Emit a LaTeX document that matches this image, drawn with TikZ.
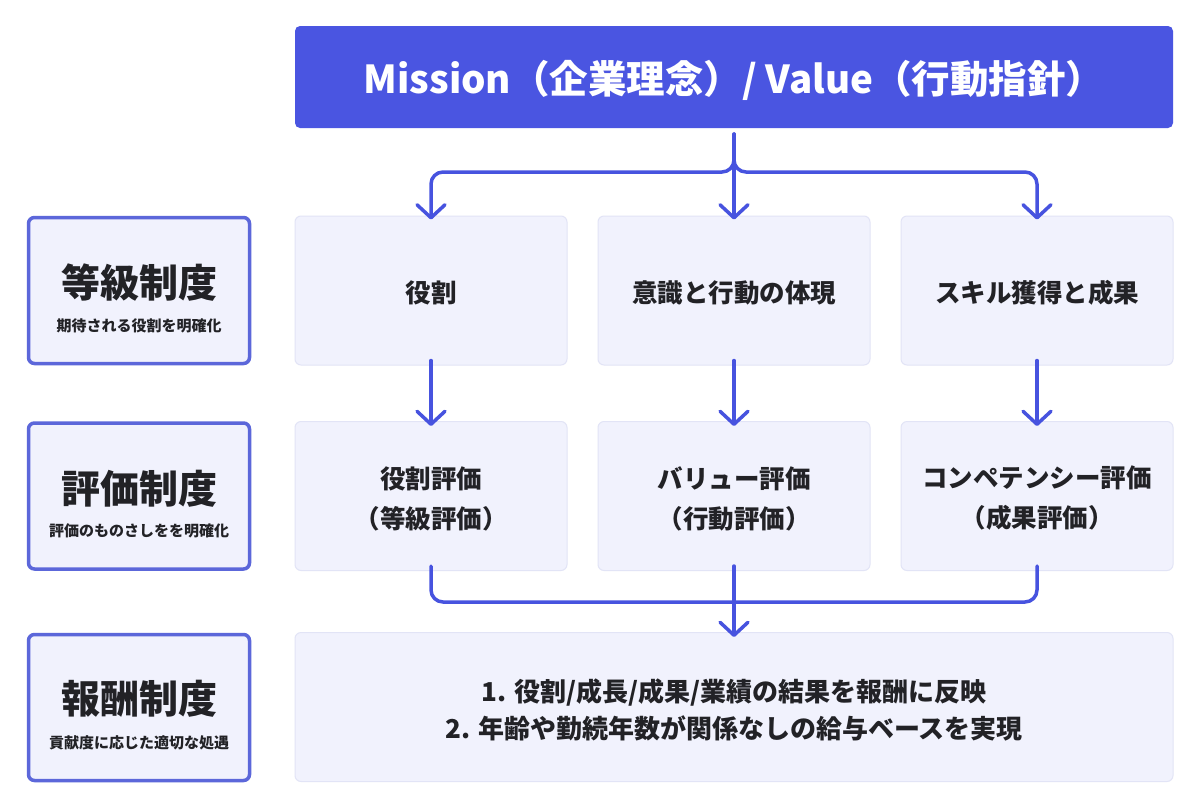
\documentclass[tikz,border=0pt]{standalone}
\usepackage{fontspec}
\setmainfont{Noto Sans CJK JP}
\usetikzlibrary{arrows.meta}
\definecolor{banner}{HTML}{4A55E1}
\definecolor{arrowc}{HTML}{4753DF}
\definecolor{lborder}{HTML}{5C67DA}
\definecolor{boxfill}{HTML}{F1F2FD}
\definecolor{cborder}{HTML}{E2E4F6}
\definecolor{txt}{HTML}{222226}
\tikzset{
  bannerbox/.style={fill=banner, draw=none, rounded corners=5pt, minimum width=878pt, minimum height=102pt, inner sep=0pt},
  bannertext/.style={text=white, font=\bfseries\fontsize{38.5}{42}\selectfont, inner sep=0pt},
  leftbox/.style={fill=boxfill, draw=lborder, line width=3.5pt, rounded corners=6pt, minimum width=221pt, minimum height=146pt, inner sep=0pt},
  contentbox/.style={fill=boxfill, draw=cborder, line width=1pt, rounded corners=6pt, minimum width=272pt, minimum height=149pt, inner sep=0pt},
  ctext/.style={text=txt, font=\bfseries\fontsize{25.5}{40}\selectfont, align=center, inner sep=0pt},
  bigbox/.style={contentbox, minimum width=878pt},
  btext/.style={text=txt, font=\bfseries\fontsize{26}{37}\selectfont, align=center, inner sep=0pt},
  title/.style={text=txt, font=\bfseries\fontsize{39}{42}\selectfont, inner sep=0pt},
  subtitle/.style={text=txt, font=\bfseries\fontsize{15}{17}\selectfont, inner sep=0pt},
  flow/.style={draw=arrowc, line width=3.5pt, line cap=round, line join=round, rounded corners=12pt, -{Straight Barb[length=13pt,width=28pt,line width=3.5pt,round]}},
  flowline/.style={draw=arrowc, line width=3.5pt, line cap=round, line join=round, rounded corners=12pt}
}
\begin{document}
\begin{tikzpicture}[x=1pt,y=-1pt]
\useasboundingbox[fill=white] (0,0) rectangle (1200,809);
% banner
\node[bannerbox] (top) at (734,77) {};
\node[bannertext] (topt) at (734,80) {Mission（企業理念）/ Value（行動指針）};
% left boxes
\node[leftbox] (l1) at (139,290.5) {};
\node[title] (l1t) at (139,283) {等級制度};
\node[subtitle] (l1s) at (139,326) {期待される役割を明確化};
\node[leftbox] (l2) at (139,496) {};
\node[title] (l2t) at (139,489) {評価制度};
\node[subtitle] (l2s) at (139,531) {評価のものさしをを明確化};
\node[leftbox] (l3) at (139,707.5) {};
\node[title] (l3t) at (139,699) {報酬制度};
\node[subtitle] (l3s) at (139,743) {貢献度に応じた適切な処遇};
% row 1
\node[contentbox] (a1) at (431,290.5) {};
\node[ctext] (a1t) at (431,293) {役割};
\node[contentbox] (b1) at (734,290.5) {};
\node[ctext] (b1t) at (734,293) {意識と行動の体現};
\node[contentbox] (c1) at (1037,290.5) {};
\node[ctext] (c1t) at (1037,293) {スキル獲得と成果};
% row 2
\node[contentbox] (a2) at (431,496) {};
\node[ctext] (a2t) at (431,498.5) {役割評価\\（等級評価）};
\node[contentbox] (b2) at (734,496) {};
\node[ctext] (b2t) at (734,498.5) {バリュー評価\\（行動評価）};
\node[contentbox] (c2) at (1037,496) {};
\node[ctext] (c2t) at (1037,498.5) {コンペテンシー評価\\（成果評価）};
% row 3
\node[bigbox] (d) at (734,707) {};
\node[btext] (dt) at (734,710) {1. 役割/成長/成果/業績の結果を報酬に反映\\2. 年齢や勤続年数が関係なしの給与ベースを実現};
% connectors top
\coordinate (ts) at (734,134);
\coordinate (tl) at (431,172);
\coordinate (tr) at (1037,172);
\path[flow] (ts) |- (tl) -- ([yshift=-4pt]a1.north);
\path[flow] (ts) |- (tr) -- ([yshift=-4pt]c1.north);
\path[flow] (ts) -- ([yshift=-4pt]b1.north);
% row1 -> row2
\path[flow] ([yshift=5pt]a1.south) -- ([yshift=-5pt]a2.north);
\path[flow] ([yshift=5pt]b1.south) -- ([yshift=-5pt]b2.north);
\path[flow] ([yshift=5pt]c1.south) -- ([yshift=-5pt]c2.north);
% row2 -> bottom
\coordinate (bm) at (734,602);
\path[flowline] ([yshift=5pt]a2.south) |- (bm);
\path[flowline] ([yshift=5pt]c2.south) |- (bm);
\path[flow] ([yshift=5pt]b2.south) -- ([yshift=-5pt]d.north);
\end{tikzpicture}
\end{document}
